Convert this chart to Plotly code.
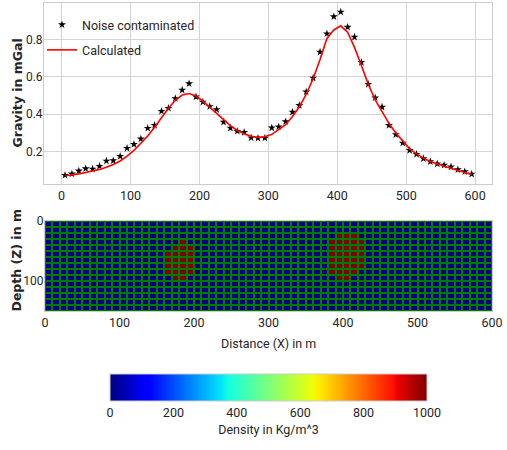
import numpy as np
import plotly.graph_objects as go

# ---------------- data ----------------
x_obs = [5, 15, 25, 35, 45, 55, 65, 75, 85, 95, 105, 115, 125, 135, 145, 155, 165, 175, 185, 195,
         205, 215, 225, 235, 245, 255, 265, 275, 285, 295, 305, 315, 325, 335, 345, 355, 365, 375, 385, 395,
         405, 415, 425, 435, 445, 455, 465, 475, 485, 495, 505, 515, 525, 535, 545, 555, 565, 575, 585, 595]

g_noise = [0.074, 0.081, 0.097, 0.109, 0.107, 0.122, 0.150, 0.152, 0.175, 0.218,
           0.239, 0.268, 0.325, 0.341, 0.416, 0.432, 0.484, 0.529, 0.563, 0.493,
           0.465, 0.441, 0.425, 0.358, 0.326, 0.309, 0.303, 0.274, 0.272, 0.273,
           0.327, 0.333, 0.360, 0.411, 0.447, 0.519, 0.593, 0.732, 0.830, 0.921,
           0.946, 0.865, 0.812, 0.677, 0.560, 0.488, 0.438, 0.340, 0.291, 0.246,
           0.207, 0.186, 0.163, 0.147, 0.135, 0.128, 0.119, 0.104, 0.093, 0.080]

g_calc = [0.071, 0.075, 0.081, 0.088, 0.096, 0.105, 0.117, 0.131, 0.150, 0.176,
          0.207, 0.243, 0.283, 0.330, 0.382, 0.432, 0.474, 0.502, 0.510, 0.497,
          0.470, 0.436, 0.403, 0.370, 0.339, 0.313, 0.295, 0.282, 0.276, 0.279,
          0.292, 0.318, 0.344, 0.388, 0.440, 0.507, 0.589, 0.692, 0.805, 0.850,
          0.872, 0.838, 0.757, 0.660, 0.560, 0.476, 0.413, 0.351, 0.300, 0.256,
          0.215, 0.188, 0.165, 0.147, 0.133, 0.122, 0.111, 0.100, 0.090, 0.078]

# density model grid (cell centres, 10 m cells)
x_cells = list(range(5, 600, 10))
z_cells = list(range(5, 150, 10))
background_density = 0
body_density = 1000
# body 1: per row (depth centre), x extent
body1_z = [35, 45, 55, 65, 75, 85, 95]
body1_xmin = [180, 170, 160, 160, 160, 160, 170]
body1_xmax = [190, 200, 200, 200, 200, 200, 190]
# body 2
body2_z = [25, 35, 45, 55, 65, 75, 85, 95]
body2_xmin = [390, 380, 380, 380, 380, 380, 380, 390]
body2_xmax = [420, 430, 430, 430, 430, 430, 420, 410]

x_ticks = [0, 100, 200, 300, 400, 500, 600]
g_ticks = [0.2, 0.4, 0.6, 0.8]
z_ticks = [0, 100]
cbar_ticks = [0, 200, 400, 600, 800, 1000]

# ---------------- build density matrix ----------------
xc = np.array(x_cells)
zc = np.array(z_cells)
dens = np.full((len(zc), len(xc)), float(background_density))
for zs, x0s, x1s in [(body1_z, body1_xmin, body1_xmax), (body2_z, body2_xmin, body2_xmax)]:
    for zz, a, b in zip(zs, x0s, x1s):
        r = np.where(zc == zz)[0][0]
        dens[r, (xc > a) & (xc < b)] = body_density

# matplotlib "jet" colorscale
bp = [0, 0.11, 0.125, 0.34, 0.35, 0.375, 0.64, 0.65, 0.66, 0.89, 0.91, 1.0]
def seg(pts):
    xs, ys = zip(*pts)
    return np.interp(bp, xs, ys)
R = seg([(0, 0), (0.35, 0), (0.66, 1), (0.89, 1), (1, 0.5)])
G = seg([(0, 0), (0.125, 0), (0.375, 1), (0.64, 1), (0.91, 0), (1, 0)])
B = seg([(0, 0.5), (0.11, 1), (0.34, 1), (0.65, 0), (1, 0)])
jet = [[p, f"rgb({int(round(r*255))},{int(round(g*255))},{int(round(b*255))})"] for p, r, g, b in zip(bp, R, G, B)]

# ---------------- figure ----------------
W, H = 507, 450
def px(x):
    return x / W
def py(y):
    return 1 - y / H

NARROW = "Liberation Sans Narrow, Roboto, sans-serif"
BOLD = "DejaVu Sans, sans-serif"
TXT = "#262626"
GRID = "#d4d4d4"

def nfont(size):
    return dict(family=NARROW, size=size, color=TXT)

fig = go.Figure()

fig.add_trace(go.Scatter(
    x=x_obs, y=g_noise, mode="markers", name="Noise contaminated",
    marker=dict(symbol="star", size=6, color="black"),
    xaxis="x", yaxis="y", legendgroup="a"))
fig.add_trace(go.Scatter(
    x=x_obs, y=g_calc, mode="lines", name="Calculated",
    line=dict(color="red", width=1.6),
    xaxis="x", yaxis="y", legendgroup="b"))

fig.add_trace(go.Heatmap(
    x=x_cells, y=z_cells, z=dens, zmin=0, zmax=1000,
    colorscale=jet, xgap=2, ygap=2, showscale=True,
    xaxis="x2", yaxis="y2",
    colorbar=dict(
        orientation="h", x=px(268.5), xanchor="center", y=py(374), yanchor="top",
        len=317, lenmode="pixels", thickness=27, xpad=0, ypad=0,
        outlinecolor="#cccccc", outlinewidth=1,
        tickvals=cbar_ticks, ticks="",
        tickfont=nfont(12.5),
        title=dict(text="Density in Kg/m^3", side="bottom", font=nfont(12.5)),
    ),
    hoverinfo="skip"))

# green grid lines behind the cells
fig.add_shape(type="rect", xref="x2", yref="y2", x0=0, x1=600, y0=0, y1=150,
              fillcolor="#007a00", line=dict(width=0), layer="below")

axis_common = dict(showline=True, mirror=True, linecolor="#cccccc", linewidth=1,
                   ticks="", zeroline=False, automargin=False,
                   tickfont=nfont(12.5))
yaxis_common = dict(axis_common, tickfont=nfont(12), ticklabelstandoff=-2)

fig.update_layout(
    width=W, height=H, template="none",
    margin=dict(l=0, r=0, t=0, b=0),
    paper_bgcolor="white", plot_bgcolor="white",
    showlegend=True,
    legend=dict(x=px(42), y=py(10), xanchor="left", yanchor="top",
                bgcolor="rgba(255,255,255,0)", borderwidth=0,
                traceorder="grouped", tracegroupgap=6,
                font=nfont(12.5)),
    xaxis=dict(domain=[px(44), px(492)], anchor="y", range=[-25.5, 624.5],
               tickvals=x_ticks, showgrid=True, gridcolor=GRID, gridwidth=1, **axis_common),
    yaxis=dict(domain=[py(184), py(3)], anchor="x", range=[0.027, 0.994],
               tickvals=g_ticks, tickformat=".1f", showgrid=True, gridcolor=GRID, gridwidth=1,
               **yaxis_common),
    xaxis2=dict(domain=[px(45), px(492)], anchor="y2", range=[0, 600],
                tickvals=x_ticks, showgrid=False, **axis_common),
    yaxis2=dict(domain=[py(311), py(221)], anchor="x2", range=[150, 0],
                tickvals=z_ticks, showgrid=False, **yaxis_common),
    annotations=[
        dict(text="<b>Gravity in mGal</b>", x=px(17), y=py(93.5), xref="paper", yref="paper",
             textangle=-90, showarrow=False, xanchor="center", yanchor="middle",
             font=dict(family=BOLD, size=12.5, color=TXT)),
        dict(text="<b>Depth (Z) in m</b>", x=px(16), y=py(260.5), xref="paper", yref="paper",
             textangle=-90, showarrow=False, xanchor="center", yanchor="middle",
             font=dict(family=BOLD, size=12.5, color=TXT)),
        dict(text="Distance (X) in m", x=px(268.5), y=py(343), xref="paper", yref="paper",
             showarrow=False, xanchor="center", yanchor="middle", font=nfont(12.5)),
    ],
)

# remove the default page margin so the 507x450 figure fills the window
fig.write_html("out.html", config={"displayModeBar": False},
               post_script="document.body.style.margin='0';document.body.style.overflow='hidden';")
